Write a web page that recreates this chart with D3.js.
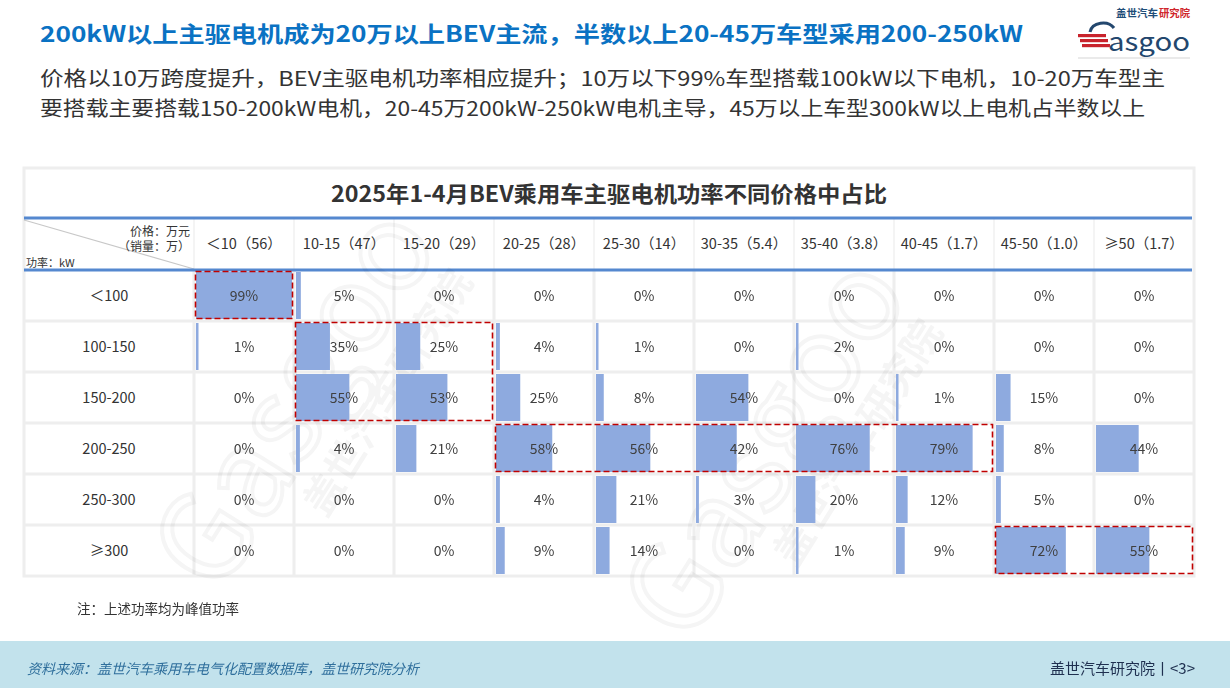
<!DOCTYPE html>
<html>
<head>
<meta charset="utf-8">
<script src="https://cdn.jsdelivr.net/npm/d3@7"></script>
<style>
  html, body { margin: 0; padding: 0; background: #fff; }
  svg { display: block; }
  text { font-family: "Noto Sans CJK SC", "Noto Sans", sans-serif; }
</style>
</head>
<body>
<svg id="chart" width="1230" height="688"></svg>
<script>
// ---------- DATA ----------
const powerRows = ["＜100", "100-150", "150-200", "200-250", "250-300", "≥300"];
const priceCols = ["＜10（56）", "10-15（47）", "15-20（29）", "20-25（28）", "25-30（14）",
                   "30-35（5.4）", "35-40（3.8）", "40-45（1.7）", "45-50（1.0）", "≥50（1.7）"];
const shareLt100   = [99, 5, 0, 0, 0, 0, 0, 0, 0, 0];
const share100_150 = [1, 35, 25, 4, 1, 0, 2, 0, 0, 0];
const share150_200 = [0, 55, 53, 25, 8, 54, 0, 1, 15, 0];
const share200_250 = [0, 4, 21, 58, 56, 42, 76, 79, 8, 44];
const share250_300 = [0, 0, 0, 4, 21, 3, 20, 12, 5, 0];
const shareGe300   = [0, 0, 0, 9, 14, 0, 1, 9, 72, 55];
const highlights = [ // [firstCol, lastCol, firstRow, lastRow]
  [0, 0, 0, 0], [1, 2, 1, 2], [3, 7, 3, 3], [8, 9, 5, 5]
];
const mainTitle = "200kW以上主驱电机成为20万以上BEV主流，半数以上20-45万车型采用200-250kW";
const subLines = ["价格以10万跨度提升，BEV主驱电机功率相应提升；10万以下99%车型搭载100kW以下电机，10-20万车型主",
                  "要搭载主要搭载150-200kW电机，20-45万200kW-250kW电机主导，45万以上车型300kW以上电机占半数以上"];
const tableTitle = "2025年1-4月BEV乘用车主驱电机功率不同价格中占比";
const note = "注：上述功率均为峰值功率";
const source = "资料来源：盖世汽车乘用车电气化配置数据库，盖世研究院分析";
const footerRight = "盖世汽车研究院丨<3>";

const matrix = [shareLt100, share100_150, share150_200, share200_250, share250_300, shareGe300];

// ---------- LAYOUT ----------
const svg = d3.select("#chart");
const T = { left: 24, right: 1194, top: 168, titleBottom: 218, headBottom: 270, bottom: 576, firstColRight: 194 };

const x = d3.scaleBand().domain(d3.range(priceCols.length)).range([T.firstColRight, T.right]);
const y = d3.scaleBand().domain(d3.range(powerRows.length)).range([T.headBottom, T.bottom]);
const w = d3.scaleLinear().domain([0, 100]).range([0, x.bandwidth() - 3]);

const numFont = '"Liberation Sans", Arial, "Noto Sans CJK SC", sans-serif';
const cjk = '"Noto Sans CJK SC", sans-serif';

// Titles
svg.append("text").attr("x", 40).attr("y", 42).attr("fill", "#0a72c3")
  .attr("font-size", 22).attr("font-weight", "bold").attr("font-family", '"Open Sans", "Noto Sans CJK SC", sans-serif')
  .attr("textLength", 983).attr("lengthAdjust", "spacingAndGlyphs")
  .text(mainTitle);
subLines.forEach((s, i) => {
  svg.append("text").attr("x", 40).attr("y", 86 + i * 30).attr("fill", "#333")
    .attr("font-size", 20).attr("font-family", cjk)
    .attr("textLength", i === 0 ? 1125 : 1105).attr("lengthAdjust", "spacingAndGlyphs")
    .text(s);
});

// Logo
const logo = svg.append("g");
logo.append("text").attr("x", 1116).attr("y", 17).attr("font-size", 10).attr("font-weight", "bold")
  .attr("fill", "#1f4e79").attr("textLength", 42).attr("lengthAdjust", "spacingAndGlyphs").text("盖世汽车");
logo.append("text").attr("x", 1159).attr("y", 17).attr("font-size", 10).attr("font-weight", "bold")
  .attr("fill", "#d0262c").attr("textLength", 31).attr("lengthAdjust", "spacingAndGlyphs").text("研究院");
[0, 5, 10].forEach(dy => logo.append("rect").attr("x", 1078 + dy * 0.4).attr("y", 34 + dy).attr("width", 28).attr("height", 3.2).attr("fill", "#c8232c"));
logo.append("path").attr("d", "M1090,32 C1092,22 1108,20 1114,28").attr("fill", "none").attr("stroke", "#23476e").attr("stroke-width", 3);
logo.append("text").attr("x", 1108).attr("y", 51).attr("font-size", 26).attr("font-family", '"Liberation Serif", "DejaVu Serif", serif')
  .attr("fill", "#23476e").attr("textLength", 82).attr("lengthAdjust", "spacingAndGlyphs").text("asgoo");
logo.append("line").attr("x1", 1078).attr("x2", 1190).attr("y1", 58).attr("y2", 58).attr("stroke", "#bbb").attr("stroke-width", 0.6);

// Table background + outer border
svg.append("rect").attr("x", T.left).attr("y", T.top).attr("width", T.right - T.left).attr("height", T.bottom - T.top)
  .attr("fill", "#fff").attr("stroke", "#eeeeee").attr("stroke-width", 3);

svg.append("text").attr("x", (T.left + T.right) / 2).attr("y", 202).attr("text-anchor", "middle")
  .attr("font-size", 22).attr("font-weight", "bold").attr("fill", "#333").attr("font-family", cjk)
  .attr("textLength", 556).attr("lengthAdjust", "spacingAndGlyphs").text(tableTitle);

// Body grid lines
const grid = svg.append("g").attr("stroke", "#eeeeee").attr("stroke-width", 3);
d3.range(1, powerRows.length).forEach(i => grid.append("line")
  .attr("x1", T.left).attr("x2", T.right).attr("y1", y(i)).attr("y2", y(i)));
d3.range(priceCols.length).forEach(j => grid.append("line")
  .attr("x1", x(j)).attr("x2", x(j)).attr("y1", T.headBottom).attr("y2", T.bottom));
// header column separators
d3.range(priceCols.length).forEach(j => svg.append("line")
  .attr("x1", x(j)).attr("x2", x(j)).attr("y1", T.titleBottom).attr("y2", T.headBottom)
  .attr("stroke", "#f0f0f0").attr("stroke-width", 1.5));

// Diagonal in corner cell
svg.append("line").attr("x1", T.left).attr("y1", T.titleBottom + 2).attr("x2", T.firstColRight).attr("y2", T.headBottom - 1)
  .attr("stroke", "#c8c8c8").attr("stroke-width", 1.2);

// Blue header lines
[T.titleBottom, T.headBottom].forEach(yy => svg.append("line").attr("x1", T.left).attr("x2", T.right - 2)
  .attr("y1", yy).attr("y2", yy).attr("stroke", "#5588cf").attr("stroke-width", 3));

// Corner labels
svg.append("text").attr("x", 190).attr("y", 236).attr("text-anchor", "end").attr("font-size", 12).attr("fill", "#333").text("价格：万元");
svg.append("text").attr("x", 190).attr("y", 251).attr("text-anchor", "end").attr("font-size", 12).attr("fill", "#333").text("（销量：万）");
svg.append("text").attr("x", 26).attr("y", 267).attr("font-size", 11).attr("fill", "#333").text("功率：kW");

// Column headers
svg.append("g").selectAll("text").data(priceCols).join("text")
  .attr("x", (d, j) => x(j) + x.bandwidth() / 2).attr("y", 249).attr("text-anchor", "middle")
  .attr("font-size", 14.5).attr("fill", "#333").attr("font-family", cjk)
  .text(d => d);

// Row labels
svg.append("g").selectAll("text").data(powerRows).join("text")
  .attr("x", (T.left + T.firstColRight) / 2).attr("y", (d, i) => y(i) + y.bandwidth() / 2 + 5)
  .attr("text-anchor", "middle").attr("font-size", 14.5).attr("fill", "#333").attr("font-family", numFont)
  .text(d => d);

// Watermark
const wm = svg.append("g").attr("opacity", 0.04).attr("pointer-events", "none");
[[330, 420], [800, 470]].forEach(([cx, cy]) => {
  wm.append("text").attr("transform", `translate(${cx},${cy}) rotate(-58)`).attr("text-anchor", "middle")
    .attr("font-size", 120).attr("font-family", '"Liberation Serif", serif').attr("fill", "none")
    .attr("stroke", "#000").attr("stroke-width", 4).text("Gasgoo");
  wm.append("text").attr("transform", `translate(${cx + 70},${cy - 20}) rotate(-58)`).attr("text-anchor", "middle")
    .attr("font-size", 40).attr("font-weight", "bold").attr("fill", "#000").text("盖世汽车研究院");
});

// Cells
const cells = [];
matrix.forEach((row, i) => row.forEach((v, j) => cells.push({ i, j, v })));
svg.append("g").selectAll("rect").data(cells.filter(c => c.v > 0)).join("rect")
  .attr("x", c => x(c.j) + 2).attr("y", c => y(c.i) + 2)
  .attr("width", c => Math.max(w(c.v), 2.5)).attr("height", y.bandwidth() - 4)
  .attr("fill", "#8eaadf");
svg.append("g").selectAll("text").data(cells).join("text")
  .attr("x", c => x(c.j) + x.bandwidth() / 2).attr("y", c => y(c.i) + y.bandwidth() / 2 + 5)
  .attr("text-anchor", "middle").attr("font-size", 14).attr("fill", "#404040").attr("font-family", numFont)
  .text(c => c.v + "%");

// Highlight boxes
svg.append("g").selectAll("rect").data(highlights).join("rect")
  .attr("x", h => x(h[0]) + 1.5).attr("y", h => y(h[2]) + 1.5)
  .attr("width", h => x(h[1]) + x.bandwidth() - x(h[0]) - 3)
  .attr("height", h => y(h[3]) + y.bandwidth() - y(h[2]) - 4)
  .attr("fill", "none").attr("stroke", "#c00000").attr("stroke-width", 1.6).attr("stroke-dasharray", "6,3");

// Note
svg.append("text").attr("x", 77).attr("y", 614).attr("font-size", 13.5).attr("fill", "#333").text(note);

// Footer band
svg.append("rect").attr("x", 0).attr("y", 641).attr("width", 1230).attr("height", 47).attr("fill", "#c2e2ec");
svg.append("text").attr("x", 27).attr("y", 674).attr("font-size", 14).attr("font-style", "italic")
  .attr("fill", "#2f6f9c").text(source);
svg.append("text").attr("x", 1195).attr("y", 674).attr("text-anchor", "end").attr("font-size", 15)
  .attr("fill", "#1f3050").text(footerRight);
</script>
</body>
</html>
